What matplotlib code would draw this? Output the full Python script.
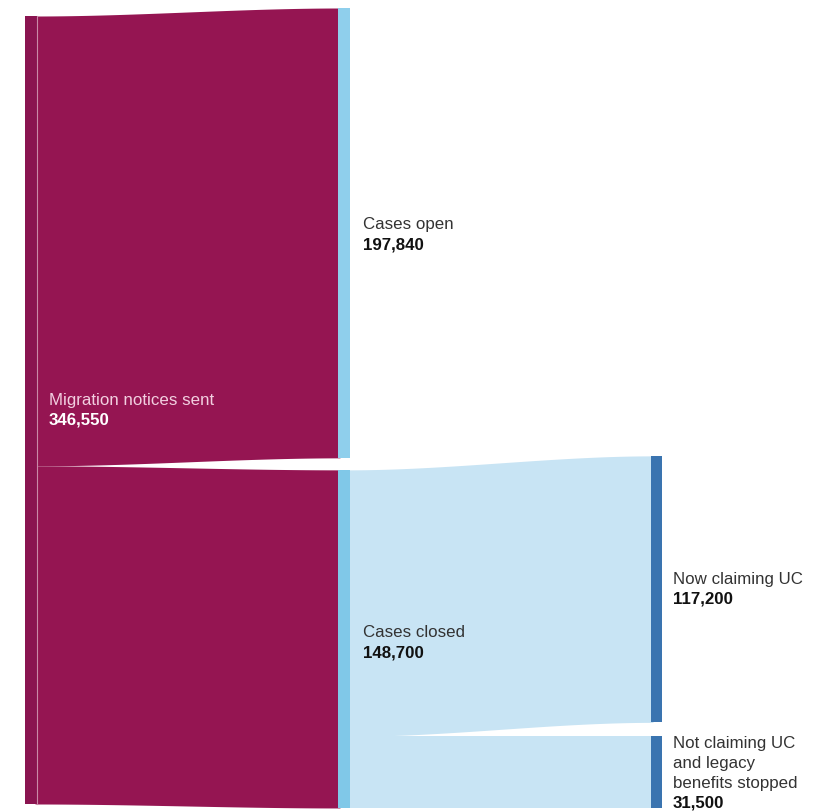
import numpy as np
import matplotlib.pyplot as plt

plt.rcParams['font.family'] = ['Liberation Sans', 'DejaVu Sans']

# node values
sent = 346550
cases_open = 197840
cases_closed = 148700
claiming_uc = 117200
not_claiming = 31500

labels_mid = ['Cases open', 'Cases closed']
labels_right = ['Now claiming UC', 'Not claiming UC\nand legacy\nbenefits stopped']

W, H = 820, 811
k = 788 / sent          # px per case
g = 1 / k               # one pixel in value units

fig = plt.figure(figsize=(W / 100, H / 100), dpi=100)
ax = fig.add_axes([0, 0, 1, 1])
ax.set_xlim(0, W)
ax.set_ylim(795 * g, -16 * g)
ax.axis('off')

PURPLE = '#951552'
PURPLE_NODE = '#8a1450'
OPEN_NODE = '#8fcfec'
CLOSED_NODE = '#80c8e8'
BLUE_FLOW = '#c8e4f4'
RIGHT_NODE = '#3a74b0'

x_left = (25, 37)
x_mid = (338, 350)
x_right = (651, 662)


def ribbon(x0, x1, a_top, a_bot, b_top, b_bot, color):
    x = np.linspace(x0, x1, 200)
    t = (x - x0) / (x1 - x0)
    s = t * t * (3 - 2 * t)
    top = a_top + (b_top - a_top) * s
    bot = a_bot + (b_bot - a_bot) * s
    ax.fill_between(x, top, bot, color=color, lw=0, zorder=1)


def node(xs, y0, y1, color):
    ax.fill_between(xs, y0, y1, color=color, lw=0, zorder=2)


# column positions (value units, y grows downward)
left_top = 0
mid_open_top = -8 * g
mid_closed_top = mid_open_top + cases_open + 12 * g
right_uc_top = mid_closed_top - 14 * g
right_not_top = right_uc_top + claiming_uc + 14 * g

# sent -> open / closed (ribbons tuck under the nodes)
ribbon(x_left[1] - 2, x_mid[0] + 2, left_top, left_top + cases_open,
       mid_open_top, mid_open_top + cases_open, PURPLE)
ribbon(x_left[1] - 2, x_mid[0] + 2, left_top + cases_open, left_top + sent,
       mid_closed_top, mid_closed_top + cases_closed, PURPLE)

# closed -> claiming / not claiming
ribbon(x_mid[1] - 2, x_right[0] + 2, mid_closed_top, mid_closed_top + claiming_uc,
       right_uc_top, right_uc_top + claiming_uc, BLUE_FLOW)
ribbon(x_mid[1] - 2, x_right[0] + 2, mid_closed_top + claiming_uc, mid_closed_top + cases_closed,
       right_not_top, right_not_top + not_claiming, BLUE_FLOW)

node(x_left, left_top, left_top + sent, PURPLE_NODE)
ax.plot([37.5, 37.5], [left_top, left_top + sent], color='#c98aa8', lw=0.8, zorder=3)
node(x_mid, mid_open_top, mid_open_top + cases_open, OPEN_NODE)
node(x_mid, mid_closed_top, mid_closed_top + cases_closed, CLOSED_NODE)
node(x_right, right_uc_top, right_uc_top + claiming_uc, RIGHT_NODE)
node(x_right, right_not_top, right_not_top + not_claiming, RIGHT_NODE)


def label(x, y, name, value, c1='#333333', c2='#111111'):
    lines = name.split('\n')
    for i, line in enumerate(lines):
        ax.text(x, y + i * 20 * g, line, fontsize=12.2, color=c1,
                va='baseline', ha='left', zorder=5)
    ax.text(x, y + len(lines) * 20 * g, f'{value:,}', fontsize=12.2, color=c2,
            fontweight='bold', va='baseline', ha='left', zorder=5)


label(49, (405 - 16) * g, 'Migration notices sent', sent, c1='#f2cfe0', c2='white')
label(363, (229 - 16) * g, labels_mid[0], cases_open)
label(363, (637 - 16) * g, labels_mid[1], cases_closed)
label(673, (584 - 16) * g, labels_right[0], claiming_uc)
label(673, (748 - 16) * g, labels_right[1], not_claiming)

fig.savefig('out.png', dpi=100)
